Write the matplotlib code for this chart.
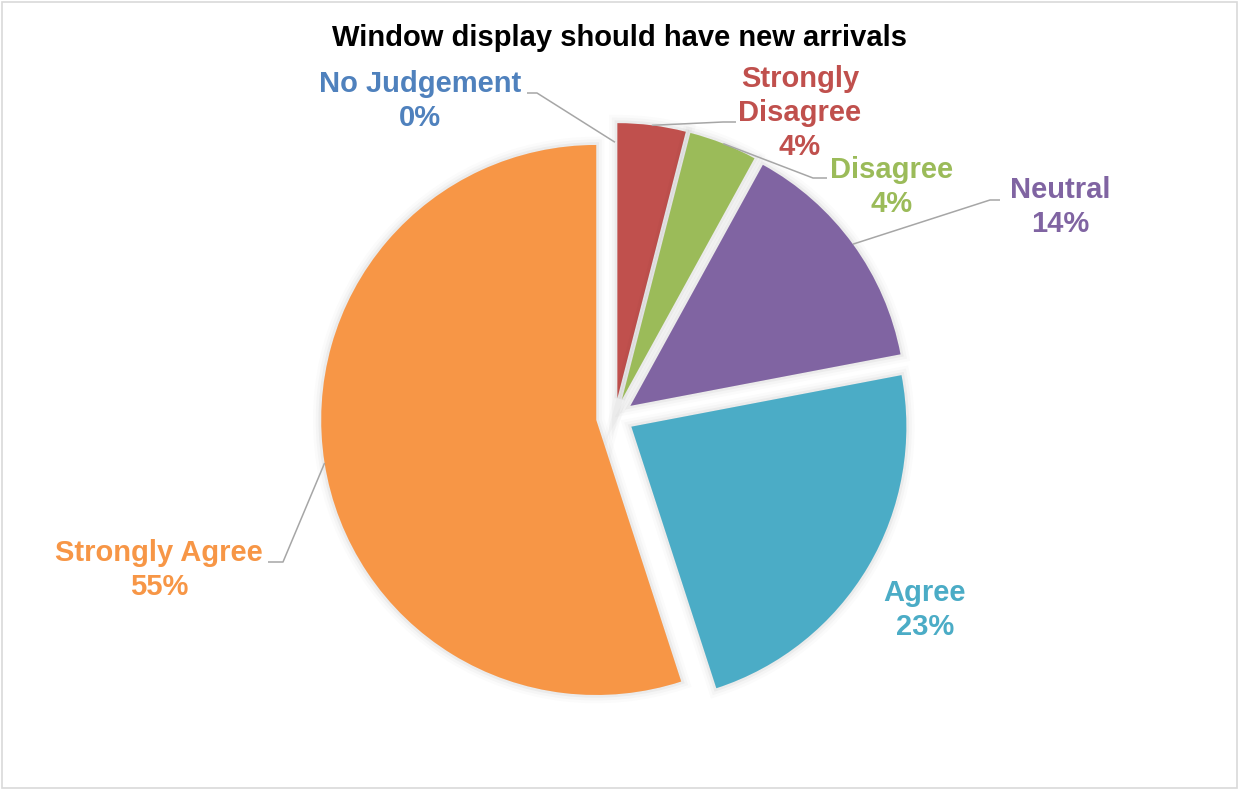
import matplotlib.pyplot as plt
import matplotlib.patheffects as pe
from matplotlib.patches import Rectangle
import numpy as np

# survey answers, clockwise from 12 o'clock
categories = ['No Judgement', 'Strongly Disagree', 'Disagree', 'Neutral', 'Agree', 'Strongly Agree']
percent = [0, 4, 4, 14, 23, 55]
colors = ['#4F81BD', '#C0504D', '#9BBB59', '#8064A2', '#4BACC6', '#F79646']
label_lines = ['No Judgement', 'Strongly\nDisagree', 'Disagree', 'Neutral', 'Agree', 'Strongly Agree']

W, H = 1239, 790
fig = plt.figure(figsize=(W / 100, H / 100), dpi=100)
ax = fig.add_axes([0, 0, 1, 1])

wedges, _ = ax.pie(percent, colors=colors, startangle=90, counterclock=False,
                   radius=275, center=(615, H - 417), explode=[19] * len(percent),
                   frame=True, wedgeprops=dict(linewidth=0))
ax.set_xlim(0, W)
ax.set_ylim(0, H)
ax.axis('off')

# soft glow behind the slices
glow = [pe.Stroke(linewidth=12, foreground='#000000', alpha=0.015),
        pe.Stroke(linewidth=8, foreground='#000000', alpha=0.025),
        pe.Stroke(linewidth=4, foreground='#000000', alpha=0.04),
        pe.Normal()]
for w, v in zip(wedges, percent):
    if v > 0:
        w.set_path_effects(glow)

# label centres (x, y from top) and leader elbows
label_xy = [(420, 101), (800, 113), (892, 187), (1060, 207), (925, 610), (159, 570)]
elbows = [[(537, 93), (527, 93)],
          [(723, 122), (736, 122)],
          [(813, 178), (827, 178)],
          [(990, 200), (1000, 200)],
          None,
          [(283, 562), (268, 562)]]
reach = [0.93, 1.0, 1.0, 1.0, 1.0, 1.0]

font = dict(family='Liberation Sans', weight='bold', size=21)

for w, name, v, c, (lx, ly), elb, k in zip(wedges, label_lines, percent, colors,
                                            label_xy, elbows, reach):
    ax.text(lx, H - ly, f'{name}\n{v}%', color=c, ha='center', va='center',
            linespacing=1.27, **font)
    if elb is None:
        continue
    tm = np.radians((w.theta1 + w.theta2) / 2)
    sx = w.center[0] + k * w.r * np.cos(tm)
    sy = w.center[1] + k * w.r * np.sin(tm)
    xs = [sx] + [p[0] for p in elb]
    ys = [sy] + [H - p[1] for p in elb]
    ax.plot(xs, ys, color='#A6A6A6', lw=1.1, solid_capstyle='butt')

fig.text(619 / W, 1 - 38 / H, 'Window display should have new arrivals',
         ha='center', va='center', color='black', **font)

fig.patches.append(Rectangle((0.002, 0.002), 0.996, 0.996, transform=fig.transFigure,
                             fill=False, edgecolor='#D9D9D9', lw=1.2))

fig.savefig('out.png', dpi=100, facecolor='white')
